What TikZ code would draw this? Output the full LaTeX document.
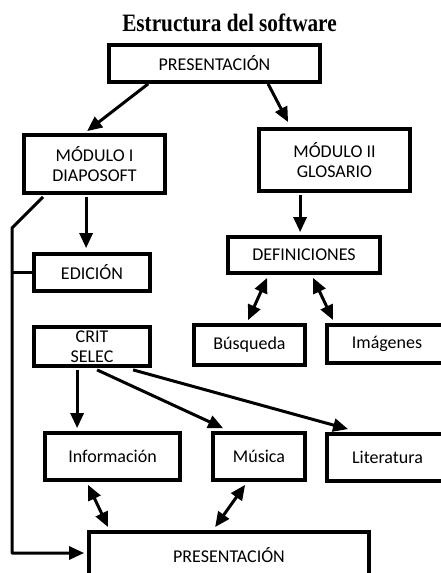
\documentclass[tikz,border=0pt]{standalone}
\usepackage{fontspec}
\usepackage{graphicx}
\setmainfont{Carlito}
\newfontfamily\titlefont{Liberation Serif}
\usetikzlibrary{arrows.meta}
\tikzset{
  box/.style={draw=black, line width=3.8pt, fill=white, align=center, inner sep=0pt,
    font=\fontsize{18}{20.5}\selectfont},
  conn/.style={line width=3pt, line join=round},
  arr/.style={conn, -{Triangle[length=15pt,width=13pt]}},
  darr/.style={conn, {Triangle[length=15pt,width=13pt]}-{Triangle[length=15pt,width=13pt]}},
}
\begin{document}
\begin{tikzpicture}[x=1pt,y=-1pt]
\fill[white] (0,0) rectangle (441,573);
\clip (0,0) rectangle (441,573);
\node[anchor=base] (title) at (229.5,31) {\titlefont\bfseries\fontsize{25}{28}\selectfont\scalebox{0.85}[1]{Estructura del software}};
\node[box, minimum width=211pt, minimum height=37pt] (top) at (214.5,63.5) {PRESENTACIÓN};
\node[box, minimum width=141pt, minimum height=58pt] (mod1) at (94.5,164) {MÓDULO I\\DIAPOSOFT};
\node[box, minimum width=151pt, minimum height=62pt] (mod2) at (334.5,160) {MÓDULO II\\GLOSARIO};
\node[box, minimum width=116pt, minimum height=37pt] (edic) at (92,272.5) {EDICIÓN};
\node[box, minimum width=116pt, minimum height=39pt] (crit) at (92,346.5) {CRIT\\SELEC};
\node[box, minimum width=152pt, minimum height=36pt] (defs) at (304,255) {DEFINICIONES};
\node[box, minimum width=111pt, minimum height=40pt] (busq) at (249.5,345) {Búsqueda};
\node[box, minimum width=120pt, minimum height=38pt] (imag) at (387,344) {Imágenes};
\node[box, minimum width=135pt, minimum height=47pt] (info) at (112.5,456.5) {Información};
\node[box, minimum width=92pt, minimum height=47pt] (musica) at (259,456.5) {Música};
\node[box, minimum width=121pt, minimum height=47pt] (lit) at (387.5,457.5) {Literatura};
\node[box, minimum width=280pt, minimum height=46pt] (pres2) at (229,555) {PRESENTACIÓN};
\coordinate (L1) at (12,228);
\coordinate (L2) at (12,553);
\draw[arr] ([xshift=41pt]top.south west) -- ([xshift=65pt,yshift=2pt]mod1.north west);
\draw[arr] ([xshift=161pt]top.south west) -- ([xshift=31pt,yshift=5pt]mod2.north west);
\draw[arr] ([xshift=64pt,yshift=-2pt]mod1.south west) -- ([xshift=54pt,yshift=4pt]edic.north west);
\draw[arr] ([xshift=21pt,yshift=-2pt]mod1.south west) -- (L1) -- (L2) -- ([xshift=-3pt]pres2.west |- L2);
\draw[conn] (edic.west) -- (edic.west -| L1);
\draw[arr] ([xshift=43pt,yshift=-2pt]mod2.south west) -- ([xshift=74pt,yshift=3pt]defs.north west);
\draw[darr] ([xshift=41pt,yshift=-3pt]defs.south west) -- ([xshift=56pt,yshift=3pt]busq.north west);
\draw[darr] ([xshift=87pt,yshift=-3pt]defs.south west) -- ([xshift=8pt,yshift=3pt]imag.north west);
\draw[arr] ([xshift=45pt,yshift=-2pt]crit.south west) -- ([xshift=34pt,yshift=3pt]info.north west);
\draw[arr] ([xshift=65pt,yshift=-2pt]crit.south west) -- ([xshift=12pt,yshift=3pt]musica.north west);
\draw[arr] ([xshift=101pt,yshift=-2pt]crit.south west) -- ([xshift=23pt,yshift=3pt]lit.north west);
\draw[darr] ([xshift=45pt,yshift=-3pt]info.south west) -- ([xshift=21pt,yshift=3pt]pres2.north west);
\draw[darr] ([xshift=34pt,yshift=-3pt]musica.south west) -- ([xshift=128pt,yshift=3pt]pres2.north west);
\end{tikzpicture}
\end{document}
